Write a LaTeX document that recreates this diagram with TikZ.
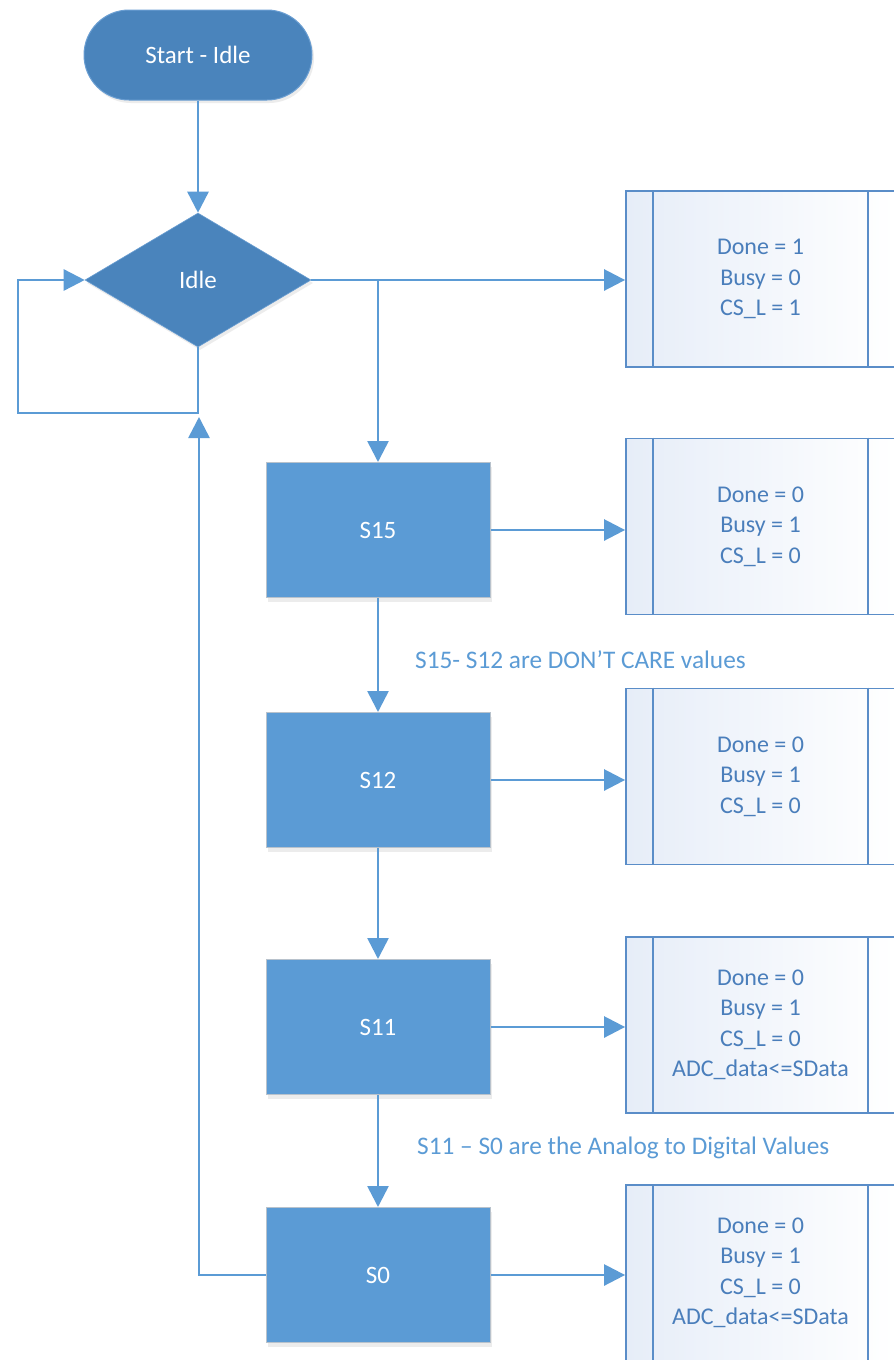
\documentclass[tikz,border=0pt]{standalone}
\usepackage{fontspec}
\setmainfont{Carlito}
\usetikzlibrary{shapes.geometric,arrows.meta,shadows}
\definecolor{darkfill}{HTML}{4A84BC}
\definecolor{darkedge}{HTML}{6A9ED2}
\definecolor{procfill}{HTML}{5B9BD5}
\definecolor{procedge}{HTML}{B8C2CC}
\definecolor{linec}{HTML}{5B9BD5}
\definecolor{boxedge}{HTML}{5A8DC8}
\definecolor{boxbg}{HTML}{E6EDF8}
\definecolor{boxtext}{HTML}{4A7EBB}
\definecolor{labeltext}{HTML}{5B9BD5}
\tikzset{
  x=1pt, y=-1pt,
  termbox/.style={draw=darkedge, line width=1pt, fill=darkfill, rounded corners=45pt,
    minimum width=228pt, minimum height=90pt, text=white, font=\fontsize{25}{30}\selectfont,
    drop shadow={shadow xshift=2pt, shadow yshift=-3pt, opacity=0.15}},
  decbox/.style={diamond, draw=darkedge, line width=0.6pt, fill=darkfill, minimum width=226pt,
    minimum height=134pt, inner sep=0pt, text=white, font=\fontsize{25}{30}\selectfont,
    drop shadow={shadow xshift=2pt, shadow yshift=-3pt, opacity=0.15}},
  statebox/.style={draw=procedge, line width=1pt, fill=procfill, minimum width=224pt,
    minimum height=135pt, text=white, font=\fontsize{25}{30}\selectfont,
    drop shadow={shadow xshift=2pt, shadow yshift=-4pt, opacity=0.15}},
  outbox/.style={draw=boxedge, line width=1.8pt, left color=boxbg, right color=white,
    minimum width=269pt, minimum height=176pt, text=boxtext, align=center,
    font=\fontsize{24}{30.5}\selectfont},
  conn/.style={draw=linec, line width=2.6pt},
  arr/.style={conn, -{Triangle[length=21pt,width=21pt]}},
  note/.style={text=labeltext, anchor=west, font=\fontsize{25.3}{30}\selectfont, inner sep=0pt},
}
\newcommand{\innerlines}[1]{%
  \draw[draw=boxedge, line width=1.8pt] ([xshift=28pt]#1.north west) -- ([xshift=28pt]#1.south west);
  \draw[draw=boxedge, line width=1.8pt] ([xshift=-28pt]#1.north east) -- ([xshift=-28pt]#1.south east);}
\begin{document}
\begin{tikzpicture}
\useasboundingbox (0,0) rectangle (894,1360);
\fill[white] (0,0) rectangle (894,1360);
% main nodes
\node[termbox] (start) at (198,55) {Start - Idle};
\node[decbox] (idle) at (198,280) {Idle};
\node[statebox] (s15) at (378,530) {S15};
\node[statebox] (s12) at (378,780) {S12};
\node[statebox] (s11) at (378,1027) {S11};
\node[statebox] (s0) at (378,1275) {S0};
% output boxes
\node[outbox] (b1) at (760.5,279) {Done = 1\\Busy = 0\\CS\_L = 1};
\node[outbox] (b2) at (760.5,526.5) {Done = 0\\Busy = 1\\CS\_L = 0};
\node[outbox] (b3) at (760.5,776.5) {Done = 0\\Busy = 1\\CS\_L = 0};
\node[outbox] (b4) at (760.5,1025) {Done = 0\\Busy = 1\\CS\_L = 0\\ADC\_data<=SData};
\node[outbox] (b5) at (760.5,1273) {Done = 0\\Busy = 1\\CS\_L = 0\\ADC\_data<=SData};
\innerlines{b1}\innerlines{b2}\innerlines{b3}\innerlines{b4}\innerlines{b5}
% labels
\node[note] (n1) at (415,660) {S15- S12 are DON’T CARE values};
\node[note] (n2) at (417,1148) {S11 – S0 are the Analog to Digital Values};
% coordinates
\coordinate (branch) at (378,280);
\coordinate (loopbr) at (198,413);
\coordinate (loopbl) at (18,413);
\coordinate (looptl) at (18,280);
\coordinate (retc) at (199,1275);
\coordinate (rettip) at (199,417);
% connectors
\draw[arr] (start.south) -- (idle.north);
\draw[arr] (idle.south) -- (loopbr) -- (loopbl) -- (looptl) -- (idle.west);
\draw[arr] (idle.east) -- (b1.west |- idle.east);
\draw[arr] (branch) -- (s15.north);
\draw[arr] (s15.east) -- (b2.west |- s15.east);
\draw[arr] (s15.south) -- (s12.north);
\draw[arr] (s12.east) -- (b3.west |- s12.east);
\draw[arr] (s12.south) -- (s11.north);
\draw[arr] (s11.east) -- (b4.west |- s11.east);
\draw[arr] (s11.south) -- (s0.north);
\draw[arr] (s0.east) -- (b5.west |- s0.east);
\draw[arr] (s0.west) -- (retc) -- (rettip);
\end{tikzpicture}
\end{document}
